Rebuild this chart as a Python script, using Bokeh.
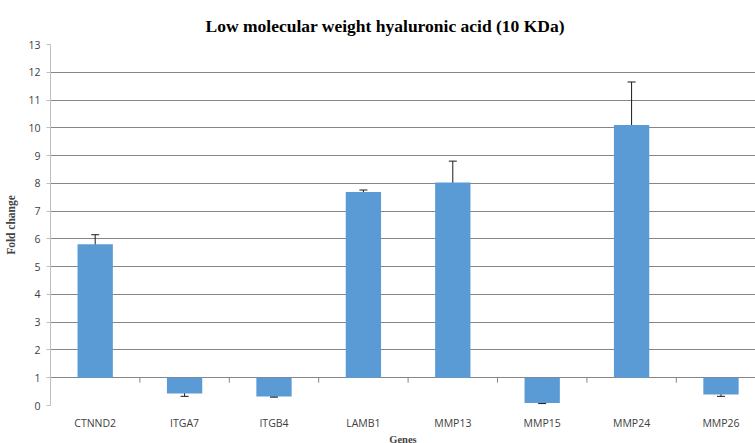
from bokeh.plotting import figure
from bokeh.models import Range1d, FixedTicker, Whisker, ColumnDataSource
from bokeh.embed import file_html
from bokeh.resources import INLINE

genes = ["CTNND2", "ITGA7", "ITGB4", "LAMB1", "MMP13", "MMP15", "MMP24", "MMP26"]
fold_change = [5.81, 0.43, 0.32, 7.69, 8.03, 0.09, 10.10, 0.40]
error = [0.34, 0.10, 0.02, 0.07, 0.77, 0.02, 1.55, 0.07]
baseline = 1.0
y_ticks = list(range(0, 14))

xs = [i + 0.5 for i in range(len(genes))]
src = ColumnDataSource(dict(
    x=xs,
    top=fold_change,
    bottom=[baseline] * len(genes),
    upper=[v + e for v, e in zip(fold_change, error)],
    lower=[v - e for v, e in zip(fold_change, error)],
))

p = figure(
    frame_width=705, frame_height=361,
    x_range=Range1d(0, 7.886), y_range=Range1d(0, 13),
    output_backend="svg", toolbar_location=None,
    min_border_left=50, min_border_right=0, min_border_top=44, min_border_bottom=36,
    title="Low molecular weight hyaluronic acid (10 KDa)",
)
p.outline_line_color = None
p.background_fill_color = "white"

p.title.text_font = "Liberation Serif"
p.title.text_font_style = "bold"
p.title.text_font_size = "17.5px"
p.title.align = "left"
p.title.offset = 155
p.title.standoff = 18
p.title.text_line_height = 1.0
p.title.text_color = "black"

# grid
p.xgrid.visible = False
p.ygrid.ticker = FixedTicker(ticks=y_ticks)
p.ygrid.grid_line_color = "#868686"
p.ygrid.grid_line_width = 1

# y axis
p.yaxis.ticker = FixedTicker(ticks=y_ticks)
p.yaxis.axis_line_color = "#bfbfbf"
p.yaxis.major_tick_line_color = "#bfbfbf"
p.yaxis.major_tick_out = 4
p.yaxis.major_tick_in = 0
p.yaxis.minor_tick_line_color = None
p.yaxis.major_label_text_font = "Open Sans"
p.yaxis.major_label_text_font_size = "10.5px"
p.yaxis.major_label_text_color = "#404040"
p.yaxis.major_label_standoff = 6
p.yaxis.axis_label = "Fold change"
p.yaxis.axis_label_text_font = "Liberation Serif"
p.yaxis.axis_label_text_font_style = "bold"
p.yaxis.axis_label_text_font_size = "11.5px"
p.yaxis.axis_label_standoff = 8

# x axis (labels at bottom)
p.xaxis.ticker = FixedTicker(ticks=xs)
p.xaxis.major_label_overrides = {x: g for x, g in zip(xs, genes)}
p.xaxis.axis_line_color = None
p.xaxis.major_tick_line_color = None
p.xaxis.minor_tick_line_color = None
p.xaxis.major_label_text_font = "Open Sans"
p.xaxis.major_label_text_font_size = "10.5px"
p.xaxis.major_label_text_color = "#404040"
p.xaxis.major_label_standoff = 4
p.xaxis.axis_label = "Genes"
p.xaxis.axis_label_text_font = "Liberation Serif"
p.xaxis.axis_label_text_font_style = "bold"
p.xaxis.axis_label_text_font_size = "10.5px"
p.xaxis.axis_label_standoff = 1

# bars from baseline 1
p.vbar(x="x", top="top", bottom="bottom", width=0.395, source=src,
       fill_color="#5b9bd5", line_color=None)

# category axis crossing at baseline, with boundary ticks
bounds = list(range(1, len(genes)))
p.segment(x0=bounds, y0=[baseline] * len(bounds), x1=bounds,
          y1=[baseline - 0.18] * len(bounds), line_color="#868686", line_width=1)

# error bars
w = Whisker(base="x", upper="upper", lower="lower", source=src,
            line_color="#1a1a1a", line_width=1)
w.upper_head.size = 8
w.lower_head.size = 8
w.upper_head.line_color = "#1a1a1a"
w.lower_head.line_color = "#1a1a1a"
p.add_layout(w)

open("out.html", "w").write(file_html(p, INLINE))
